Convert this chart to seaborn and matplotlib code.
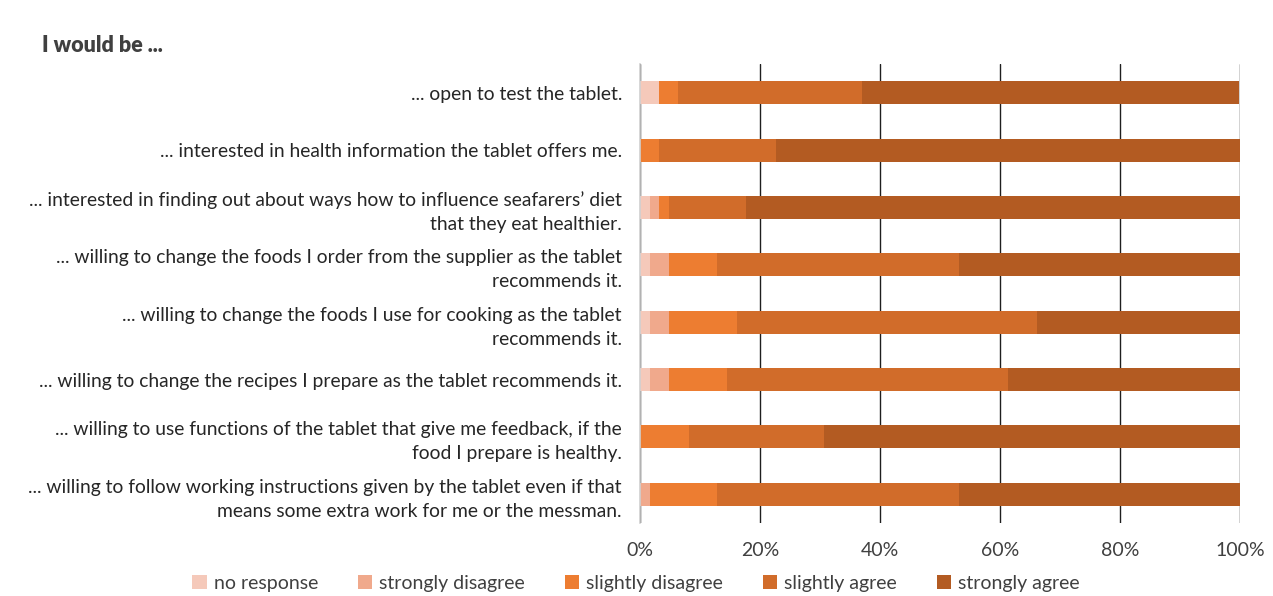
import matplotlib
matplotlib.use("Agg")
import matplotlib.pyplot as plt
from matplotlib.patches import Patch
import numpy as np
import pandas as pd
import seaborn as sns

# Survey statements (answers to "I would be ...")
statements = [
    "... open to test the tablet.",
    "... interested in health information the tablet offers me.",
    "... interested in finding out about ways how to influence seafarers\u2019 diet\nthat they eat healthier.",
    "... willing to change the foods I order from the supplier as the tablet\nrecommends it.",
    "... willing to change the foods I use for cooking as the tablet\nrecommends it.",
    "... willing to change the recipes I prepare as the tablet recommends it.",
    "... willing to use functions of the tablet that give me feedback, if the\nfood I prepare is healthy.",
    "... willing to follow working instructions given by the tablet even if that\nmeans some extra work for me or the messman.",
]

responses = ["no response", "strongly disagree", "slightly disagree",
             "slightly agree", "strongly agree"]

# Shares of answers in percent, one list per response category
no_response = [3.2, 0.0, 1.6, 1.6, 1.6, 1.6, 0.0, 0.0]
strongly_disagree = [0.0, 0.0, 1.6, 3.2, 3.2, 3.2, 0.0, 1.6]
slightly_disagree = [3.2, 3.2, 1.6, 8.1, 11.3, 9.7, 8.1, 11.3]
slightly_agree = [30.6, 19.4, 12.9, 40.3, 50.0, 46.8, 22.6, 40.3]
strongly_agree = [62.9, 77.4, 82.3, 46.8, 33.9, 38.7, 69.4, 46.8]

colors = ["#F5C9BA", "#F0A98C", "#ED7D31", "#D16C2A", "#B35B22"]

df = pd.DataFrame({
    "statement": statements,
    responses[0]: no_response,
    responses[1]: strongly_disagree,
    responses[2]: slightly_disagree,
    responses[3]: slightly_agree,
    responses[4]: strongly_agree,
})
cum = df[responses].cumsum(axis=1)

sns.set_theme(style="white")
plt.rcParams["font.family"] = ["Lato", "DejaVu Sans"]

fig = plt.figure(figsize=(12.73, 5.96), dpi=100)
ax = fig.add_axes([640 / 1273, 1 - 523 / 596, 600 / 1273, 459 / 596])

# Stacked bars: draw cumulative totals from the largest down
for resp, col in reversed(list(zip(responses, colors))):
    sns.barplot(x=cum[resp], y=df["statement"], color=col, width=0.4,
                orient="h", ax=ax, saturation=1, linewidth=0)

ax.set_xlim(0, 100)
ax.set_xticks([0, 20, 40, 60, 80, 100])
ax.set_xticklabels(["0%", "20%", "40%", "60%", "80%", "100%"])
ax.set_xlabel("")
ax.set_ylabel("")
ax.set_axisbelow(True)
ax.xaxis.grid(True, color="#1f1f1f", linewidth=1.0)
ax.yaxis.grid(False)
for s in ["top", "right", "bottom"]:
    ax.spines[s].set_visible(False)
ax.spines["left"].set_color("#d0d0d0")
ax.spines["left"].set_linewidth(1.2)
ax.tick_params(axis="x", length=0, pad=14, labelsize=14, labelcolor="#404040")
ax.tick_params(axis="y", length=0, pad=13, labelsize=13.9, labelcolor="#262626")
for lbl in ax.get_yticklabels():
    lbl.set_multialignment("right")
    lbl.set_linespacing(1.5)

fig.text(42 / 1273, 1 - 45 / 596, "I would be ...", fontsize=15.5, fontweight="heavy",
         color="#404040", ha="left", va="center")

handles = [Patch(facecolor=c, edgecolor="none", label=r) for r, c in zip(responses, colors)]
fig.legend(handles=handles, loc="center", bbox_to_anchor=(636 / 1273, 1 - 583 / 596),
           ncol=5, frameon=False, fontsize=14, handlelength=0.75, handleheight=0.75,
           handletextpad=0.35, columnspacing=2.05, labelcolor="#404040")

fig.savefig("out.png", dpi=100, facecolor="white")
